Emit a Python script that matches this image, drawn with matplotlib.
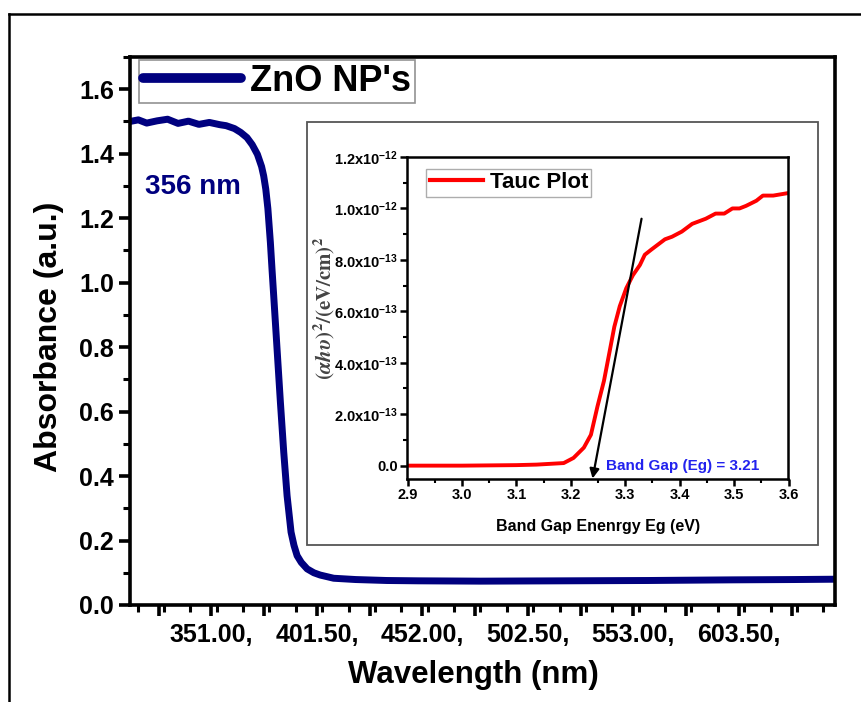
import matplotlib
matplotlib.use("Agg")
import matplotlib.pyplot as plt
from matplotlib.ticker import MultipleLocator, FixedLocator, FuncFormatter
from matplotlib.patches import Rectangle
from matplotlib.lines import Line2D

plt.rcParams['font.family'] = ['Liberation Sans', 'DejaVu Sans']
plt.rcParams['font.weight'] = 'bold'
plt.rcParams['mathtext.fontset'] = 'custom'
plt.rcParams['mathtext.rm'] = 'Liberation Sans:bold'
plt.rcParams['mathtext.bf'] = 'Liberation Sans:bold'
plt.rcParams['mathtext.it'] = 'Liberation Sans:bold:italic'

# UV-Vis absorbance of ZnO nanoparticles
wavelength = [312, 316, 320, 325, 330, 335, 340, 345, 350, 355, 358, 362, 365,
              368, 370.5, 373, 375, 376, 377, 378, 379.2, 380, 380.8, 382.4,
              384.0, 385.6, 387.2, 389.1, 390.5, 392.0, 394, 396.8, 400, 403,
              409.5, 420, 435, 450, 480, 520, 560, 600, 630, 649.5]
absorbance = [1.500, 1.505, 1.495, 1.502, 1.507, 1.494, 1.501, 1.491, 1.497,
              1.490, 1.487, 1.478, 1.466, 1.450, 1.428, 1.398, 1.360, 1.331,
              1.290, 1.230, 1.125, 1.040, 0.959, 0.794, 0.629, 0.474, 0.339,
              0.226, 0.185, 0.153, 0.132, 0.112, 0.100, 0.093, 0.083, 0.079,
              0.076, 0.075, 0.074, 0.075, 0.076, 0.078, 0.079, 0.080]

# Tauc plot data
energy = [2.90, 3.00, 3.10, 3.137, 3.187, 3.205, 3.224, 3.237, 3.249, 3.261,
          3.271, 3.280, 3.290, 3.302, 3.314, 3.327, 3.336, 3.348, 3.373,
          3.386, 3.404, 3.423, 3.448, 3.466, 3.482, 3.497, 3.510, 3.522,
          3.541, 3.553, 3.572, 3.600]
tauc = [0.0, 0.0, 0.002, 0.004, 0.010, 0.030, 0.070, 0.120, 0.230, 0.330,
        0.440, 0.540, 0.620, 0.690, 0.740, 0.780, 0.820, 0.840, 0.880,
        0.890, 0.910, 0.940, 0.960, 0.980, 0.980, 1.000, 1.000, 1.010,
        1.030, 1.050, 1.050, 1.060]
tauc = [v * 1e-12 for v in tauc]

# Tangent line used to estimate the band gap
tangent_start = (3.33, 0.96e-12)
tangent_end = (3.24, -0.05e-12)
band_gap_label = "Band Gap (Eg) = 3.21"

main_xticks = [325.75 + 25.25 * k for k in range(13)]
main_xlabels = ["351.00,", "401.50,", "452.00,", "502.50,", "553.00,", "603.50,"]

navy = "#00007f"

fig = plt.figure(figsize=(8.62, 7.02), dpi=100)

# outer frame (top and left edges visible)
fig.add_artist(Line2D([9 / 862, 9 / 862], [-0.1, 1 - 14 / 702], color='black',
                      lw=1.8, transform=fig.transFigure))
fig.add_artist(Line2D([9 / 862, 1.1], [1 - 14 / 702, 1 - 14 / 702], color='black',
                      lw=1.8, transform=fig.transFigure))

ax = fig.add_axes([130 / 862, 1 - 605 / 702, 705 / 862, 548 / 702])
ax.plot(wavelength, absorbance, color=navy, lw=5, solid_capstyle='round',
        label="ZnO NP's")
ax.set_xlim(312, 649.5)
ax.set_ylim(0, 1.7)
for s in ax.spines.values():
    s.set_linewidth(2.6)

ax.xaxis.set_major_locator(FixedLocator(main_xticks))
labels = []
for i, t in enumerate(main_xticks):
    j = (i - 1) // 2
    labels.append(main_xlabels[j] if i % 2 == 1 and j < len(main_xlabels) else "")
ax.set_xticklabels(labels)
ax.xaxis.set_minor_locator(MultipleLocator(12.625))
ax.yaxis.set_major_locator(MultipleLocator(0.2))
ax.yaxis.set_minor_locator(MultipleLocator(0.1))
ax.yaxis.set_major_formatter(FuncFormatter(lambda v, p: f"{v:.1f}"))
ax.tick_params(which='major', direction='out', length=8, width=2.6,
               labelsize=18, top=False, right=False)
ax.tick_params(which='minor', direction='out', length=5, width=2.2,
               top=False, right=False)
ax.tick_params(axis='x', which='major', pad=5)
for lab in ax.get_xticklabels() + ax.get_yticklabels():
    lab.set_fontweight('bold')

ax.set_xlabel("Wavelength (nm)", fontsize=22.5, fontweight='bold')
ax.set_ylabel("Absorbance (a.u.)", fontsize=23, fontweight='bold')
ax.xaxis.set_label_coords(0.487, -0.1)
ax.yaxis.set_label_coords(-0.094, 0.489)

leg = ax.legend(loc='upper left', bbox_to_anchor=(0.013, 0.995), fontsize=26,
                frameon=True, fancybox=False, handlelength=2.7,
                borderpad=0.12, handletextpad=0.25, borderaxespad=0)
leg.get_frame().set_edgecolor('#777777')
leg.get_frame().set_linewidth(1.2)
for t in leg.get_texts():
    t.set_fontweight('bold')
leg.get_lines()[0].set_linewidth(7)

ax.text(319, 1.274, "356 nm", color=navy, fontsize=20, fontweight='bold',
        ha='left', va='baseline')

# inset panel box
fig.add_artist(Rectangle((307 / 862, 1 - 545 / 702), 511 / 862, 423 / 702,
                         transform=fig.transFigure, facecolor='white',
                         edgecolor='#555555', lw=1.3, zorder=2))

ins = fig.add_axes([407.5 / 862, 1 - 478.5 / 702, 381 / 862, 321.5 / 702])
ins.set_zorder(3)
ins.plot(energy, tauc, color='#ff0000', lw=2.8, label='Tauc Plot')
ins.set_xlim(2.9, 3.6)
ins.set_ylim(-0.05e-12, 1.2e-12)
for s in ins.spines.values():
    s.set_linewidth(1.8)
ins.xaxis.set_major_locator(MultipleLocator(0.1))
ins.xaxis.set_minor_locator(MultipleLocator(0.05))
ins.yaxis.set_major_locator(MultipleLocator(0.2e-12))
ins.yaxis.set_minor_locator(MultipleLocator(0.1e-12))


def sci_label(v, pos):
    if abs(v) < 1e-16:
        return "0.0"
    exp = -12 if v >= 0.999e-12 else -13
    mant = v / 10 ** exp
    return f"{mant:.1f}x10$^{{{exp}}}$"


ins.yaxis.set_major_formatter(FuncFormatter(sci_label))
ins.xaxis.set_major_formatter(FuncFormatter(lambda v, p: f"{v:.1f}"))
ins.tick_params(which='major', direction='out', length=5, width=1.8,
                labelsize=10.5, top=False, right=False, pad=2)
ins.tick_params(which='minor', direction='out', length=3, width=1.5,
                top=False, right=False)
ins.set_xlabel("Band Gap Enenrgy Eg (eV)", fontsize=11.5, fontweight='bold')
ins.xaxis.set_label_coords(0.5, -0.125)
ins.set_ylabel(r'$(\alpha h\upsilon)^{\mathbf{2}}/(\mathbf{eV/cm})^{\mathbf{2}}$',
               fontsize=15, color='#444444', math_fontfamily='stix')
ins.yaxis.set_label_coords(-0.185, 0.53)

ins.annotate("", xy=tangent_end, xytext=tangent_start,
             arrowprops=dict(arrowstyle='-|>', color='black', lw=1.6,
                             mutation_scale=14, shrinkA=0, shrinkB=0),
             annotation_clip=False)
ins.text(3.265, 0.0, band_gap_label, color='#2222ee', fontsize=11,
         fontweight='bold', ha='left', va='center')

ileg = ins.legend(loc='upper left', bbox_to_anchor=(0.049, 0.963), fontsize=16,
                  frameon=True, fancybox=False, handlelength=2.4,
                  borderpad=0.15, handletextpad=0.3, borderaxespad=0)
ileg.get_frame().set_edgecolor('#999999')
ileg.get_frame().set_linewidth(1.0)
for t in ileg.get_texts():
    t.set_fontweight('bold')
ileg.get_lines()[0].set_linewidth(3)

fig.savefig("out.png", dpi=100)
